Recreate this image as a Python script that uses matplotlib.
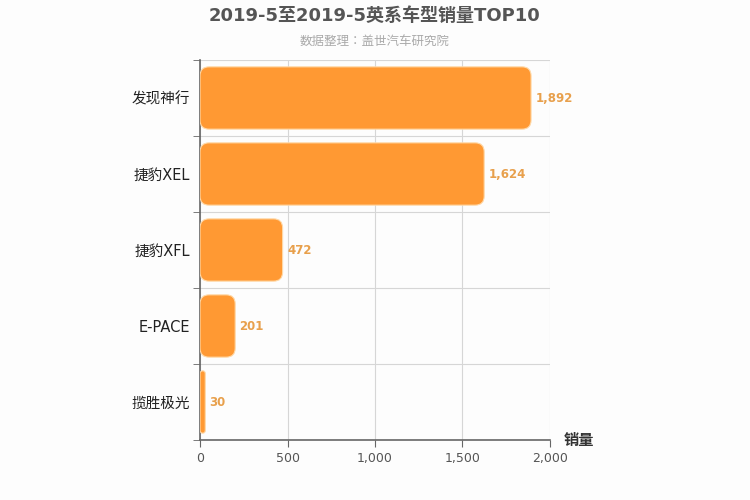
import matplotlib.pyplot as plt
from matplotlib.patches import FancyBboxPatch
from matplotlib.ticker import FuncFormatter

plt.rcParams['font.family'] = ['DejaVu Sans', 'Noto Sans CJK SC']

# data (top to bottom)
models = ["发现神行", "捷豹XEL", "捷豹XFL", "E-PACE", "揽胜极光"]
sales = [1892, 1624, 472, 201, 30]
xticks = [0, 500, 1000, 1500, 2000]

title = "2019-5至2019-5英系车型销量TOP10"
subtitle = "数据整理：盖世汽车研究院"

bar_color = "#ff9933"
label_color = "#e8a04c"
bg = "#fdfdfd"

fig = plt.figure(figsize=(7.5, 5), dpi=100, facecolor=bg)
ax = fig.add_axes([0.2667, 0.12, 0.4666, 0.76], facecolor=bg)

ypos = list(range(len(models)))[::-1]
bars = ax.barh(ypos, sales, height=0.82, color=bar_color)

ax.set_xlim(0, 2000)
ax.set_ylim(-0.5, len(models) - 0.5)

# swap plain rectangles for rounded ones
x_per_px = 2000 / 350
y_per_px = 5 / 380
for rect in bars.patches:
    x, y = rect.get_x(), rect.get_y()
    w, h = rect.get_width(), rect.get_height()
    rect.set_visible(False)
    r_px = min(9, (w / x_per_px) / 2)
    fb = FancyBboxPatch((x, y), w, h,
                        boxstyle=f"round,pad=0,rounding_size={r_px * x_per_px}",
                        mutation_aspect=y_per_px / x_per_px,
                        facecolor=bar_color, edgecolor="#ffd9a8", linewidth=0.8,
                        zorder=3)
    ax.add_patch(fb)

for yp, v in zip(ypos, sales):
    ax.text(v + 25, yp, f"{v:,}", va="center", ha="left", fontsize=8.5,
            fontweight="bold", color=label_color, zorder=4)

ax.set_yticks(ypos)
ax.set_yticklabels(models, fontsize=10.5, color="#222222")
ax.tick_params(axis="y", length=0, pad=7)
# boundary ticks on the y axis
ax.set_yticks([i - 0.5 for i in range(len(models) + 1)], minor=True)
ax.tick_params(axis="y", which="minor", length=5, color="#666666")
ax.grid(True, axis="y", which="minor", color="#d6d6d6", linewidth=0.8)

ax.set_xticks(xticks)
ax.xaxis.set_major_formatter(FuncFormatter(lambda v, p: f"{int(v):,}"))
ax.tick_params(axis="x", labelsize=9, labelcolor="#555555", length=5, color="#666666")
ax.grid(True, axis="x", color="#d6d6d6", linewidth=0.8)
ax.set_axisbelow(True)

for s in ["top", "right"]:
    ax.spines[s].set_visible(False)
for s in ["left", "bottom"]:
    ax.spines[s].set_color("#666666")
    ax.spines[s].set_linewidth(1.2)

ax.text(1.04, 0.0, "销量", transform=ax.transAxes, fontsize=11,
        color="#333333", ha="left", va="center", fontweight="bold")

fig.text(0.5, 0.968, title, ha="center", va="center", fontsize=13,
         fontweight="bold", color="#555555")
fig.text(0.5, 0.918, subtitle, ha="center", va="center", fontsize=9,
         color="#aaaaaa", family=['Noto Sans CJK JP', 'DejaVu Sans'])

fig.savefig("out.png", dpi=100, facecolor=bg)
